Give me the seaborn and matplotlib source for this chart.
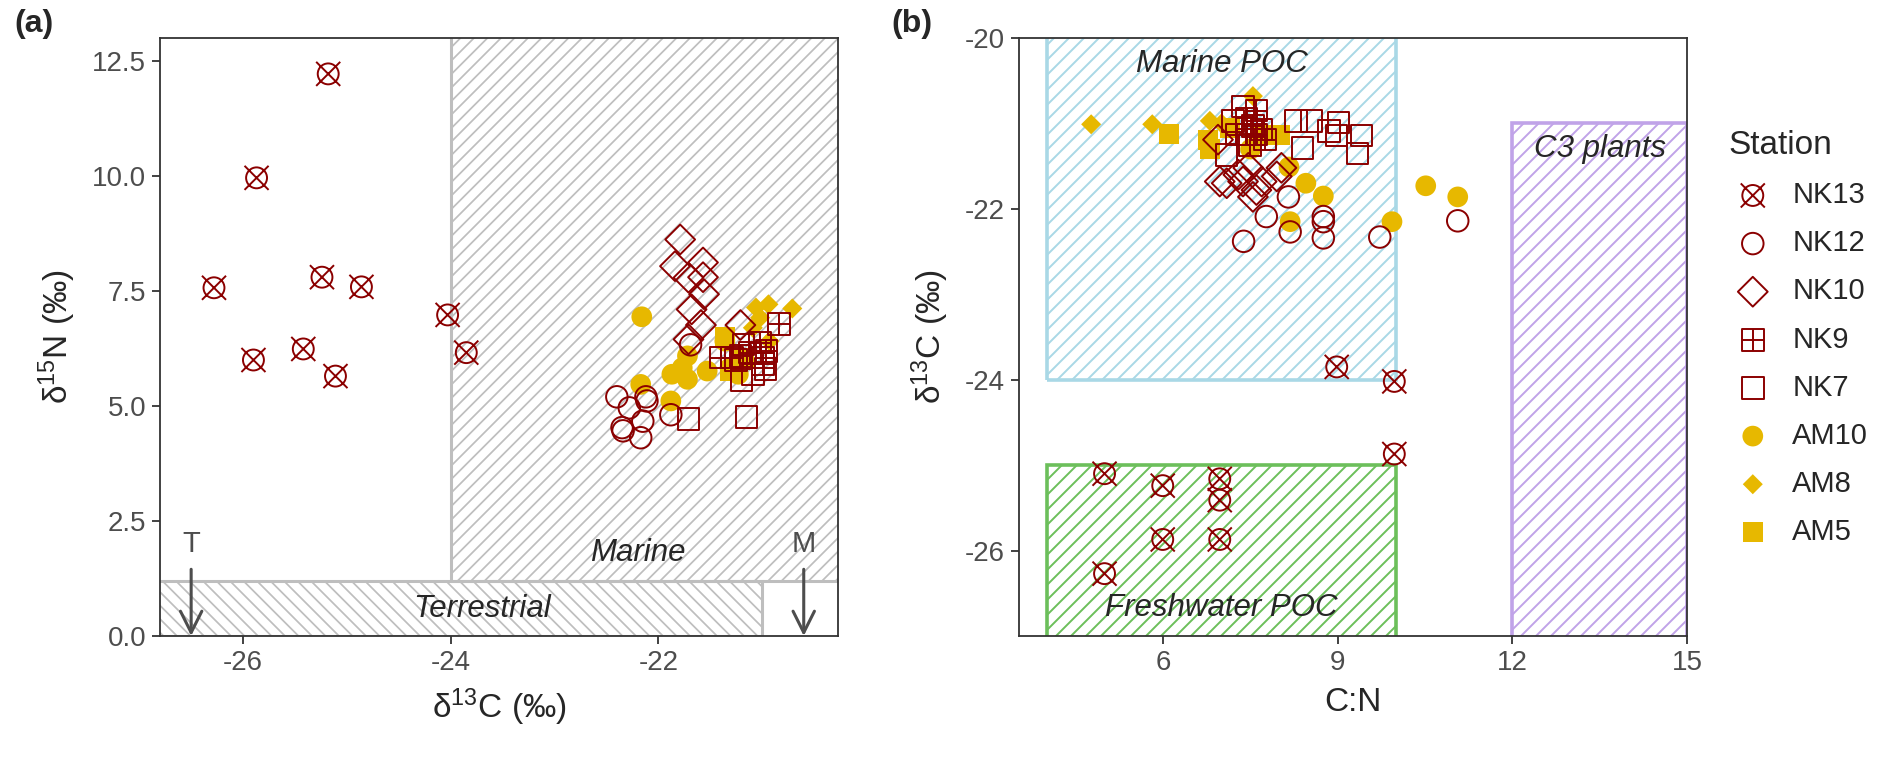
import numpy as np
import pandas as pd
import matplotlib
matplotlib.use("Agg")
import matplotlib.pyplot as plt
import seaborn as sns
from matplotlib.path import Path
from matplotlib.patches import Rectangle, Polygon
from matplotlib.collections import LineCollection
from matplotlib.transforms import IdentityTransform
from matplotlib.ticker import FormatStrFormatter

# ---------------- data ----------------
stations = ["NK13", "NK12", "NK10", "NK9", "NK7", "AM10", "AM8", "AM5"]

# Panel (a): d13C (x) vs d15N (y)
nk13_d13c_a = [-25.18, -25.87, -26.28, -25.24, -24.86, -24.03, -23.85, -25.90, -25.42, -25.11]
nk13_d15n_a = [12.22, 9.96, 7.57, 7.80, 7.59, 6.98, 6.16, 6.00, 6.24, 5.65]
nk12_d13c_a = [-21.69, -22.40, -22.28, -22.11, -22.12, -22.15, -22.35, -22.34, -22.17, -21.88]
nk12_d15n_a = [6.33, 5.20, 4.96, 5.11, 5.20, 4.67, 4.53, 4.46, 4.31, 4.81]
nk10_d13c_a = [-21.79, -21.84, -21.57, -21.57, -21.71, -21.56, -21.68, -21.59, -21.71, -21.21]
nk10_d15n_a = [8.62, 8.04, 8.12, 7.80, 7.79, 7.43, 7.10, 6.76, 6.45, 6.76]
nk9_d13c_a = [-20.84, -21.40, -21.21, -21.02, -20.99, -21.12, -21.29, -20.96]
nk9_d15n_a = [6.78, 6.05, 6.09, 6.38, 5.91, 6.16, 6.05, 6.20]
nk7_d13c_a = [-21.71, -21.15, -21.20, -20.97, -21.09, -21.18, -20.99, -21.25]
nk7_d15n_a = [4.72, 4.76, 5.56, 5.80, 5.69, 6.34, 6.05, 6.00]
am10_d13c_a = [-22.16, -22.17, -21.88, -21.87, -21.72, -21.72, -21.53, -21.36, -21.31, -21.23, -21.77]
am10_d15n_a = [6.94, 5.47, 5.11, 5.69, 5.58, 6.09, 5.76, 6.41, 5.83, 5.69, 5.83]
am8_d13c_a = [-21.06, -20.94, -20.71, -20.93, -21.09, -21.02]
am8_d15n_a = [7.14, 7.21, 7.12, 6.41, 6.70, 6.92]
am5_d13c_a = [-21.36, -21.18, -21.31]
am5_d15n_a = [6.49, 6.05, 5.76]

# Panel (b): C:N (x) vs d13C (y)
nk13_cn_b = [4.99, 5.99, 6.97, 6.97, 5.99, 6.97, 4.99, 8.98, 9.97, 9.97]
nk13_d13c_b = [-25.10, -25.24, -25.16, -25.41, -25.87, -25.87, -26.27, -23.85, -24.02, -24.87]
nk12_cn_b = [8.15, 7.77, 8.18, 8.75, 8.75, 8.75, 7.38, 9.72, 11.06]
nk12_d13c_b = [-21.86, -22.09, -22.27, -22.09, -22.15, -22.34, -22.38, -22.33, -22.14]
nk10_cn_b = [6.94, 6.97, 7.09, 7.29, 7.46, 7.60, 7.54, 7.95, 7.69, 7.37, 8.03]
nk10_d13c_b = [-21.19, -21.68, -21.70, -21.60, -21.52, -21.78, -21.86, -21.62, -21.68, -21.68, -21.52]
nk9_cn_b = [7.54, 7.69, 7.43, 7.26, 7.75, 7.49, 7.60, 7.60]
nk9_d13c_b = [-21.03, -21.07, -20.94, -21.13, -21.19, -21.25, -21.13, -20.85]
nk7_cn_b = [7.37, 8.28, 8.55, 9.01, 8.85, 8.98, 9.41, 8.39, 9.34, 7.20, 7.09, 7.43]
nk7_d13c_b = [-20.80, -20.97, -20.97, -20.99, -21.09, -21.14, -21.14, -21.29, -21.35, -20.97, -21.37, -21.13]
am10_cn_b = [8.16, 8.45, 8.75, 8.18, 9.93, 10.51, 11.06, 7.50]
am10_d13c_b = [-21.51, -21.70, -21.85, -22.15, -22.15, -21.73, -21.86, -21.30]
am8_cn_b = [4.76, 5.81, 6.80, 7.54, 7.00]
am8_d13c_b = [-21.01, -21.01, -20.97, -20.68, -21.00]
am5_cn_b = [6.10, 6.77, 8.00, 7.66, 7.14, 6.80]
am5_d13c_b = [-21.12, -21.19, -21.13, -21.13, -21.05, -21.30]

x_ticks_a = [-26, -24, -22]
y_ticks_a = [0.0, 2.5, 5.0, 7.5, 10.0, 12.5]
x_ticks_b = [6, 9, 12, 15]
y_ticks_b = [-20, -22, -24, -26]

panel_a = {
    "NK13": (nk13_d13c_a, nk13_d15n_a), "NK12": (nk12_d13c_a, nk12_d15n_a),
    "NK10": (nk10_d13c_a, nk10_d15n_a), "NK9": (nk9_d13c_a, nk9_d15n_a),
    "NK7": (nk7_d13c_a, nk7_d15n_a), "AM10": (am10_d13c_a, am10_d15n_a),
    "AM8": (am8_d13c_a, am8_d15n_a), "AM5": (am5_d13c_a, am5_d15n_a),
}
panel_b = {
    "NK13": (nk13_cn_b, nk13_d13c_b), "NK12": (nk12_cn_b, nk12_d13c_b),
    "NK10": (nk10_cn_b, nk10_d13c_b), "NK9": (nk9_cn_b, nk9_d13c_b),
    "NK7": (nk7_cn_b, nk7_d13c_b), "AM10": (am10_cn_b, am10_d13c_b),
    "AM8": (am8_cn_b, am8_d13c_b), "AM5": (am5_cn_b, am5_d13c_b),
}

def to_df(d):
    rows = []
    for st, (xs, ys) in d.items():
        for x, y in zip(xs, ys):
            rows.append((st, x, y))
    return pd.DataFrame(rows, columns=["station", "x", "y"])

df_a = to_df(panel_a)
df_b = to_df(panel_b)

# ---------------- style ----------------
sns.set_theme(style="white")
plt.rcParams['font.family'] = ['Liberation Sans', 'DejaVu Sans']
plt.rcParams['axes.unicode_minus'] = False
plt.rcParams['mathtext.fontset'] = 'custom'
plt.rcParams['mathtext.rm'] = 'Liberation Sans'
plt.rcParams['mathtext.it'] = 'Liberation Sans:italic'

DR = '#8B0000'
YL = '#E7B800'
GRAY = '#BEBEBE'
BLUE = '#A9D8E6'
GREEN = '#6CBF5B'
PURPLE = '#C0A3E8'
TXT = '#4D4D4D'

k = 1.15
circ_x = Path.make_compound_path(
    Path.unit_circle(),
    Path([(-k, -k), (k, k)], [Path.MOVETO, Path.LINETO]),
    Path([(-k, k), (k, -k)], [Path.MOVETO, Path.LINETO]))
sq_plus = Path.make_compound_path(
    Path([(-1, -1), (1, -1), (1, 1), (-1, 1), (-1, -1)],
         [Path.MOVETO, Path.LINETO, Path.LINETO, Path.LINETO, Path.CLOSEPOLY]),
    Path([(-1, 0), (1, 0)], [Path.MOVETO, Path.LINETO]),
    Path([(0, -1), (0, 1)], [Path.MOVETO, Path.LINETO]))

styles = {
    "NK13": dict(marker=circ_x, s=300, facecolor='none', edgecolor=DR, color=DR, linewidth=1.4),
    "NK12": dict(marker='o', s=240, facecolor='none', edgecolor=DR, color=DR, linewidth=1.4),
    "NK10": dict(marker='D', s=230, facecolor='none', edgecolor=DR, color=DR, linewidth=1.4),
    "NK9": dict(marker=sq_plus, s=240, facecolor='none', edgecolor=DR, color=DR, linewidth=1.4),
    "NK7": dict(marker='s', s=240, facecolor='none', edgecolor=DR, color=DR, linewidth=1.4),
    "AM10": dict(marker='o', s=222, color=YL, edgecolor='none', linewidth=0),
    "AM8": dict(marker='D', s=104, color=YL, edgecolor='none', linewidth=0),
    "AM5": dict(marker='s', s=207, color=YL, edgecolor='none', linewidth=0),
}
draw_order = ["AM5", "AM8", "AM10", "NK7", "NK9", "NK10", "NK12", "NK13"]

W, H = 1892, 759
fig = plt.figure(figsize=(W / 100, H / 100), dpi=100)
bot, top = 636, 38
ax1 = fig.add_axes([160 / W, (H - bot) / H, (838 - 160) / W, (bot - top) / H])
ax2 = fig.add_axes([1019 / W, (H - bot) / H, (1687 - 1019) / W, (bot - top) / H])


def hatched_box(ax, x0, y0, w, h, color, spacing, direction, lw_edge, lw_hatch):
    """Rectangle with diagonal stripes spaced `spacing` pixels horizontally."""
    rect = Rectangle((x0, y0), w, h, facecolor='none', edgecolor=color,
                     linewidth=lw_edge, zorder=1.5)
    ax.add_patch(rect)
    clip = Polygon([(x0, y0), (x0 + w, y0), (x0 + w, y0 + h), (x0, y0 + h)],
                   closed=True, transform=ax.transData)
    bb = ax.get_window_extent()
    X0, Y0, X1, Y1 = bb.x0 - 5, bb.y0 - 5, bb.x1 + 5, bb.y1 + 5
    Hh = Y1 - Y0
    segs = []
    for xb in np.arange(X0 - Hh - spacing, X1 + spacing, spacing):
        if direction == '/':
            segs.append([(xb, Y0), (xb + Hh, Y1)])
        else:
            segs.append([(xb, Y1), (xb + Hh, Y0)])
    lc = LineCollection(segs, colors=color, linewidths=lw_hatch,
                        transform=IdentityTransform(), zorder=1)
    ax.add_collection(lc, autolim=False)
    lc.set_clip_path(clip)


def draw_points(ax, df, label):
    for st in draw_order:
        sub = df[df.station == st]
        sns.scatterplot(data=sub, x="x", y="y", ax=ax, zorder=3,
                        label=st if label else None, legend=False, **styles[st])

# ----- panel (a) -----
ax1.set_xlim(-26.8, -20.27)
ax1.set_ylim(0, 13)
hatched_box(ax1, -24, 1.2, 10, 20, GRAY, 13.5, '/', 2.2, 1.25)
hatched_box(ax1, -30, 0, 9, 1.2, GRAY, 13.5, '\\', 2.2, 1.25)
draw_points(ax1, df_a, False)
ax1.set_xlim(-26.8, -20.27)
ax1.set_ylim(0, 13)
ax1.set_xticks(x_ticks_a)
ax1.set_yticks(y_ticks_a)
ax1.yaxis.set_major_formatter(FormatStrFormatter('%.1f'))
ax1.text(-22.2, 1.8, "Marine", style='italic', fontsize=22.5, ha='center', va='center', zorder=4)
ax1.text(-23.7, 0.58, "Terrestrial", style='italic', fontsize=22.5, ha='center', va='center', zorder=4)
for xa, lab in [(-26.5, "T"), (-20.6, "M")]:
    ax1.annotate('', xy=(xa, 0.0), xytext=(xa, 1.45),
                 arrowprops=dict(arrowstyle='->,head_length=0.7,head_width=0.35',
                                 color=TXT, lw=2.2, shrinkA=0, shrinkB=0, mutation_scale=22),
                 zorder=4)
    ax1.text(xa, 2.0, lab, fontsize=21, color=TXT, ha='center', va='center', zorder=4)
ax1.set_xlabel("δ$^{13}$C (‰)", fontsize=24, labelpad=8)
ax1.set_ylabel("δ$^{15}$N (‰)", fontsize=24, labelpad=10)

# ----- panel (b) -----
ax2.set_xlim(3.52, 15.0)
ax2.set_ylim(-27, -20)
hatched_box(ax2, 4, -24, 6, 5, BLUE, 15, '/', 2.6, 1.4)
hatched_box(ax2, 4, -28, 6, 3, GREEN, 15, '/', 2.6, 1.4)
hatched_box(ax2, 12, -28, 3, 7, PURPLE, 15, '/', 2.6, 1.4)
draw_points(ax2, df_b, True)
ax2.set_xlim(3.52, 15.0)
ax2.set_ylim(-27, -20)
ax2.set_xticks(x_ticks_b)
ax2.set_yticks(y_ticks_b)
ax2.text(7.0, -20.3, "Marine POC", style='italic', fontsize=22.5, ha='center', va='center', zorder=4)
ax2.text(7.0, -26.67, "Freshwater POC", style='italic', fontsize=22.5, ha='center', va='center', zorder=4)
ax2.text(13.5, -21.3, "C3 plants", style='italic', fontsize=22.5, ha='center', va='center', zorder=4)
ax2.set_xlabel("C:N", fontsize=24, labelpad=8)
ax2.set_ylabel("δ$^{13}$C (‰)", fontsize=24, labelpad=10)

for ax in (ax1, ax2):
    for sp in ax.spines.values():
        sp.set_visible(True)
        sp.set_color('#333333')
        sp.set_linewidth(1.3)
        sp.set_zorder(5)
    ax.tick_params(direction='out', length=6, width=1.3, color='#333333',
                   labelcolor=TXT, labelsize=20, pad=4, bottom=True, left=True)
    ax.grid(False)

fig.text(34 / W, 1 - 24 / H, "(a)", fontsize=23, fontweight='bold', ha='center', va='center')
fig.text(912 / W, 1 - 24 / H, "(b)", fontsize=23, fontweight='bold', ha='center', va='center')

# legend
h, l = ax2.get_legend_handles_labels()
hm = dict(zip(l, h))
leg = fig.legend([hm[s] for s in stations], stations, title="Station",
                 loc='upper left', bbox_to_anchor=(1728 / W, 1 - 130 / H),
                 frameon=False, fontsize=21, title_fontsize=24, alignment='left',
                 labelspacing=0.69, handlelength=1.7, handletextpad=0.5,
                 borderpad=0, borderaxespad=0, scatterpoints=1)

fig.savefig("out.png", dpi=100)
